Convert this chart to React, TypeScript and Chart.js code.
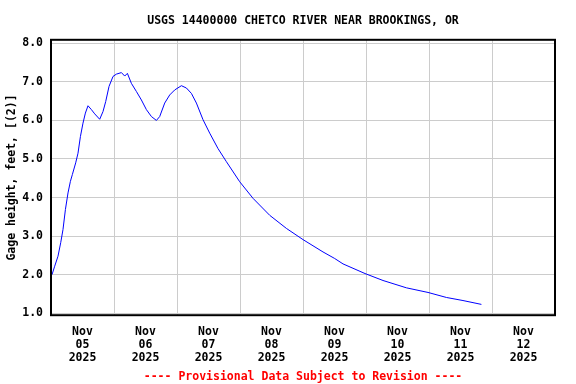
import React, { useEffect, useRef } from "react";
import { Chart, registerables } from "chart.js";

Chart.register(...registerables);

// hours since Nov 05 2025 00:00
const hours = [
  0.38, 1.41, 2.67, 3.7, 4.57, 5.49, 6.48, 7.39, 8.15, 9.41, 10.29, 11.2, 12.19, 13.1, 14.1,
  15.39, 16.65, 18.55, 19.81, 20.84, 22.1, 23.62, 24.91, 26.82, 28.08, 29.1, 30.63, 32.53,
  34.44, 36.34, 38.25, 40.15, 41.41, 43.32, 45.22, 47.13, 49.68, 51.58, 53.49, 55.39, 57.9,
  60.46, 63.62, 66.82, 71.89, 76.96, 83.32, 89.68, 96.0, 103.62, 108.08, 111.24, 119.62,
  126.48, 135.39, 143.62, 150.63, 156.95, 163.96,
];
const gageHeight = [
  2.0, 2.22, 2.48, 2.83, 3.17, 3.69, 4.12, 4.42, 4.6, 4.9, 5.15, 5.58, 5.93, 6.19, 6.38,
  6.28, 6.17, 6.03, 6.23, 6.49, 6.88, 7.14, 7.2, 7.24, 7.15, 7.22, 6.96, 6.75,
  6.53, 6.28, 6.1, 6.0, 6.1, 6.45, 6.66, 6.79, 6.9, 6.84, 6.7, 6.45, 6.02,
  5.67, 5.27, 4.93, 4.41, 3.98, 3.54, 3.2, 2.91, 2.59, 2.42, 2.28, 2.03,
  1.85, 1.66, 1.54, 1.41, 1.33, 1.23,
];
const dayLabels = ["05", "06", "07", "08", "09", "10", "11", "12"];
const monthLabel = "Nov";
const yearLabel = "2025";
const yTicks = [1, 2, 3, 4, 5, 6, 7, 8];

const FONT = "'DejaVu Sans Mono', monospace";

const framePlugin = {
  id: "frame",
  afterDraw(chart: any) {
    const { ctx, chartArea } = chart;
    ctx.save();
    ctx.strokeStyle = "#000";
    ctx.lineWidth = 2;
    ctx.strokeRect(chartArea.left, chartArea.top, chartArea.right - chartArea.left, chartArea.bottom - chartArea.top);
    ctx.restore();
  },
};

export default function App() {
  const ref = useRef<HTMLCanvasElement>(null);
  useEffect(() => {
    const chart = new Chart(ref.current!, {
      type: "line",
      data: {
        datasets: [
          {
            data: hours.map((h, i) => ({ x: h, y: gageHeight[i] })),
            borderColor: "#0000ff",
            borderWidth: 1,
            pointRadius: 0,
            tension: 0,
          },
        ],
      },
      plugins: [framePlugin],
      options: {
        animation: false,
        responsive: false,
        layout: { padding: { top: 1, right: 21, bottom: 0, left: 0 } },
        plugins: {
          legend: { display: false },
          tooltip: { enabled: false },
          title: {
            display: true,
            text: "USGS 14400000 CHETCO RIVER NEAR BROOKINGS, OR",
            color: "#000",
            fullSize: false,
            font: { family: FONT, size: 11.5, weight: "bold", lineHeight: 1.2 },
            padding: { top: 13, bottom: 12 },
          },
          subtitle: {
            display: true,
            position: "bottom",
            text: "---- Provisional Data Subject to Revision ----",
            color: "#ff0000",
            fullSize: false,
            font: { family: FONT, size: 11.5, weight: "bold", lineHeight: 1.2 },
            padding: { top: 9, bottom: 0 },
          },
        },
        scales: {
          x: {
            type: "linear",
            min: 0,
            max: 192,
            afterBuildTicks: (scale: any) => {
              const t = [];
              for (let v = 0; v <= 192; v += 12) t.push({ value: v });
              scale.ticks = t;
            },
            afterFit: (scale: any) => {
              scale.height = 46;
            },
            border: { display: false },
            grid: {
              color: (ctx: any) => (ctx.tick && ctx.tick.value % 24 === 0 ? "#cccccc" : "rgba(0,0,0,0)"),
              lineWidth: 1,
              drawTicks: false,
            },
            ticks: {
              autoSkip: false,
              maxRotation: 0,
              padding: 10,
              color: "#000",
              font: { family: FONT, size: 11.5, weight: "bold", lineHeight: 1.15 },
              callback: (value: any) => {
                const v = Number(value);
                if (v % 24 !== 12) return "";
                const d = Math.floor(v / 24);
                return [monthLabel, dayLabels[d], yearLabel];
              },
            },
          },
          y: {
            type: "linear",
            min: 0.95,
            max: 8.09,
            afterBuildTicks: (scale: any) => {
              scale.ticks = yTicks.map((v) => ({ value: v }));
            },
            afterFit: (scale: any) => {
              scale.width = 51;
            },
            border: { display: false },
            grid: { color: "#cccccc", lineWidth: 1, drawTicks: false },
            ticks: {
              padding: 8,
              color: "#000",
              font: { family: FONT, size: 11.5, weight: "bold" },
              callback: (value: any) => Number(value).toFixed(1),
            },
            title: {
              display: true,
              text: "Gage height, feet, [(2)]",
              color: "#000",
              font: { family: FONT, size: 11.5, weight: "bold", lineHeight: 1.2 },
              padding: { top: 5, bottom: 0 },
            },
          },
        },
      },
    } as any);
    return () => chart.destroy();
  }, []);
  return (
    <div style={{ position: "fixed", left: 0, top: 0, width: 576, height: 384, background: "#fff" }}>
      <canvas ref={ref} width={576} height={384} style={{ display: "block" }} />
    </div>
  );
}
